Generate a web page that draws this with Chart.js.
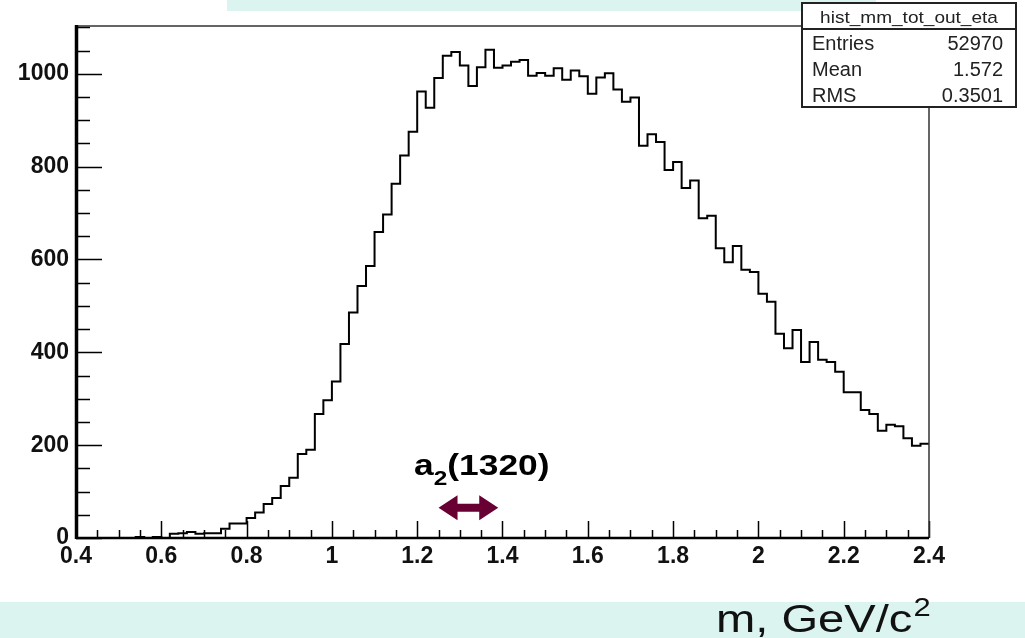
<!DOCTYPE html>
<html>
<head>
<meta charset="utf-8">
<script src="https://cdn.jsdelivr.net/npm/chart.js@4.4.0/dist/chart.umd.min.js"></script>
<style>
  html, body { margin: 0; padding: 0; background: #fff; }
  canvas { display: block; }
</style>
</head>
<body>
<canvas id="histCanvas" width="1025" height="638"></canvas>
<script>
// histogram binning (ROOT: 100 bins from 0.4 to 2.4)
const xMin = 0.4;
const xMax = 2.4;
const binWidth = 0.02;
const yMax = 1103;

// bin contents
const counts = [
  0, 0, 0, 0, 0, 0, 0, 2, 0, 2,
  0, 9, 10, 13, 9, 10, 10, 20, 31, 31,
  43, 55, 73, 86, 112, 130, 181, 190, 267, 297,
  337, 418, 486, 543, 586, 659, 697, 763, 824, 875,
  962, 927, 991, 1039, 1047, 1018, 974, 1014, 1052, 1013,
  1018, 1026, 1030, 996, 1002, 996, 1012, 987, 1007, 995,
  957, 992, 1001, 966, 940, 949, 845, 870, 853, 793,
  810, 754, 770, 689, 694, 624, 594, 629, 578, 573,
  526, 509, 440, 409, 448, 379, 422, 384, 379, 358,
  314, 314, 276, 267, 231, 244, 241, 215, 199, 203
];

const xTickLabels = ['0.4', '0.6', '0.8', '1', '1.2', '1.4', '1.6', '1.8', '2', '2.2', '2.4'];
const yTickLabels = ['0', '200', '400', '600', '800', '1000'];
const xMinorStep = 0.05;
const yMinorStep = 50;

const statsTitle = 'hist_mm_tot_out_eta';
const statsNames = ['Entries', 'Mean', 'RMS'];
const statsValues = ['52970', '1.572', '0.3501'];

const peakLabel = 'a';
const peakSub = '2';
const peakMass = '(1320)';
const axisTitle = 'm, GeV/c';

const tickFont = 'Liberation Sans, Arial, Helvetica, sans-serif';
const bandColor = '#dbf4f0';
const arrowColor = '#680033';

function labelFor(list, v) {
  const hit = list.find(s => Math.abs(parseFloat(s) - v) < 1e-6);
  return hit === undefined ? '' : hit;
}

// step line through bin edges, last edge repeats the last bin
const points = counts.map((c, i) => ({ x: xMin + i * binWidth, y: c }));
points.push({ x: xMax, y: counts[counts.length - 1] });

const rootLook = {
  id: 'rootLook',
  afterDatasetsDraw(chart) {
    const { ctx, chartArea: a, scales: { x, y } } = chart;
    ctx.save();
    ctx.strokeStyle = '#000';
    ctx.lineWidth = 1.5;
    ctx.beginPath();
    x.ticks.forEach(t => {
      const px = Math.round(x.getPixelForValue(t.value)) + 0.5;
      const len = t.label ? 17 : 8;
      ctx.moveTo(px, a.bottom);
      ctx.lineTo(px, a.bottom - len);
    });
    y.ticks.forEach(t => {
      const py = Math.round(y.getPixelForValue(t.value)) + 0.5;
      const len = t.label ? 26 : 14;
      ctx.moveTo(a.left, py);
      ctx.lineTo(a.left + len, py);
    });
    ctx.stroke();

    // frame
    ctx.strokeStyle = '#333';
    ctx.lineWidth = 1.5;
    ctx.beginPath();
    ctx.moveTo(a.left, a.top);
    ctx.lineTo(a.right, a.top);
    ctx.lineTo(a.right, a.bottom);
    ctx.stroke();
    ctx.strokeStyle = '#000';
    ctx.lineWidth = 2.5;
    ctx.beginPath();
    ctx.moveTo(a.left, a.bottom);
    ctx.lineTo(a.right, a.bottom);
    ctx.stroke();
    ctx.lineWidth = 3.5;
    ctx.beginPath();
    ctx.moveTo(a.left + 0.5, a.top - 1);
    ctx.lineTo(a.left + 0.5, a.bottom + 1);
    ctx.stroke();
    ctx.restore();
  },
  afterDraw(chart) {
    const { ctx, chartArea: a, scales: { x, y }, width, height } = chart;
    ctx.save();

    // slide bands
    ctx.fillStyle = bandColor;
    ctx.fillRect(227, 0, 649, 11);
    ctx.fillRect(0, 602, width, height - 602);

    // stats box
    const bx = 802, by = 3, bw = 214, bh = 104;
    ctx.fillStyle = '#fff';
    ctx.fillRect(bx, by, bw, bh);
    ctx.strokeStyle = '#222';
    ctx.lineWidth = 2;
    ctx.strokeRect(bx, by, bw, bh);
    ctx.beginPath();
    ctx.moveTo(bx, 29);
    ctx.lineTo(bx + bw, 29);
    ctx.stroke();
    ctx.fillStyle = '#222';
    ctx.textBaseline = 'alphabetic';
    ctx.save();
    ctx.translate(bx + bw / 2, 23);
    ctx.scale(1.12, 1);
    ctx.font = '17px ' + tickFont;
    ctx.textAlign = 'center';
    ctx.fillText(statsTitle, 0, 0);
    ctx.restore();
    ctx.font = '20px ' + tickFont;
    statsNames.forEach((n, i) => {
      const base = 50 + i * 26;
      ctx.textAlign = 'left';
      ctx.fillText(n, bx + 10, base);
      ctx.textAlign = 'right';
      ctx.fillText(statsValues[i], bx + bw - 13, base);
    });
    ctx.textAlign = 'left';

    // a2(1320) marker
    const cx = x.getPixelForValue(1.32);
    const cy = y.getPixelForValue(65);
    const half = x.getPixelForValue(1.39) - cx;
    const headW = 19, headH = 12.5, shaft = 4;
    ctx.fillStyle = arrowColor;
    ctx.beginPath();
    ctx.moveTo(cx - half, cy);
    ctx.lineTo(cx - half + headW, cy - headH);
    ctx.lineTo(cx - half + headW, cy - shaft);
    ctx.lineTo(cx + half - headW, cy - shaft);
    ctx.lineTo(cx + half - headW, cy - headH);
    ctx.lineTo(cx + half, cy);
    ctx.lineTo(cx + half - headW, cy + headH);
    ctx.lineTo(cx + half - headW, cy + shaft);
    ctx.lineTo(cx - half + headW, cy + shaft);
    ctx.lineTo(cx - half + headW, cy + headH);
    ctx.closePath();
    ctx.fill();

    ctx.save();
    ctx.translate(x.getPixelForValue(1.1925), y.getPixelForValue(136));
    ctx.scale(1.22, 1);
    let tx = 0;
    ctx.fillStyle = '#000';
    ctx.font = 'bold 29px ' + tickFont;
    ctx.fillText(peakLabel, tx, 0);
    tx += ctx.measureText(peakLabel).width;
    ctx.font = 'bold 20px ' + tickFont;
    ctx.fillText(peakSub, tx, 10);
    tx += ctx.measureText(peakSub).width;
    ctx.font = 'bold 29px ' + tickFont;
    ctx.fillText(peakMass, tx, 0);
    ctx.restore();

    // axis title on the bottom band
    ctx.translate(716, 632);
    ctx.scale(1.24, 1);
    ctx.font = '38px ' + tickFont;
    ctx.fillStyle = '#111';
    ctx.fillText(axisTitle, 0, 0);
    const w = ctx.measureText(axisTitle).width;
    ctx.font = '25px ' + tickFont;
    ctx.fillText('2', w + 1, -16);
    ctx.restore();
  }
};

new Chart(document.getElementById('histCanvas').getContext('2d'), {
  type: 'line',
  data: {
    datasets: [{
      label: statsTitle,
      data: points,
      borderColor: '#000',
      borderWidth: 2,
      pointRadius: 0,
      stepped: true,
      fill: false
    }]
  },
  options: {
    responsive: false,
    animation: false,
    events: [],
    layout: { autoPadding: false, padding: { left: 0, right: 96, top: 26, bottom: 0 } },
    plugins: { legend: { display: false }, tooltip: { enabled: false } },
    scales: {
      x: {
        type: 'linear',
        min: xMin,
        max: xMax,
        grid: { display: false, drawTicks: false },
        border: { display: false },
        afterBuildTicks(scale) {
          const t = [];
          for (let v = xMin; v <= xMax + 1e-9; v += xMinorStep) t.push({ value: +v.toFixed(2) });
          scale.ticks = t;
        },
        afterFit(scale) { scale.height = 100; },
        ticks: {
          autoSkip: false,
          maxRotation: 0,
          padding: 5,
          color: '#111',
          font: { family: tickFont, size: 23, weight: 'bold' },
          callback: v => labelFor(xTickLabels, v)
        }
      },
      y: {
        type: 'linear',
        min: 0,
        max: yMax,
        grid: { display: false, drawTicks: false },
        border: { display: false },
        afterBuildTicks(scale) {
          const t = [];
          for (let v = 0; v < yMax; v += yMinorStep) t.push({ value: v });
          scale.ticks = t;
        },
        afterFit(scale) { scale.width = 76; },
        ticks: {
          autoSkip: false,
          padding: 7,
          color: '#111',
          font: { family: tickFont, size: 23, weight: 'bold' },
          callback: v => labelFor(yTickLabels, v)
        }
      }
    }
  },
  plugins: [rootLook]
});
</script>
</body>
</html>
